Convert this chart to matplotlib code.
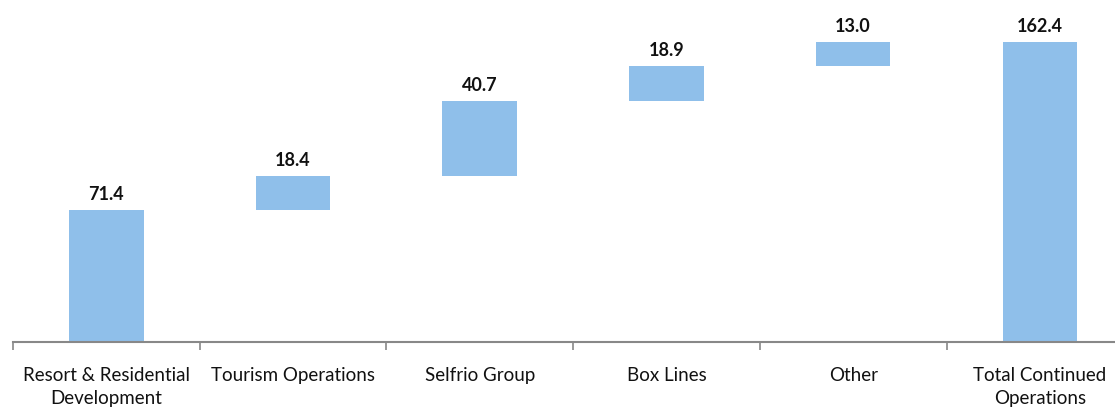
import matplotlib
matplotlib.use("Agg")
import matplotlib.pyplot as plt
import numpy as np

categories = ["Resort & Residential\nDevelopment", "Tourism Operations", "Selfrio Group",
              "Box Lines", "Other", "Total Continued\nOperations"]
values = [71.4, 18.4, 40.7, 18.9, 13.0, 162.4]
is_total = [False, False, False, False, False, True]

bar_color = "#8FBFEA"
axis_color = "#888888"

plt.rcParams['font.family'] = ['Lato', 'DejaVu Sans']

W, H = 1115, 407
fig = plt.figure(figsize=(W / 100, H / 100), dpi=100)
left_px, right_px = 13, 13 + 6 * 186.7
base_px, top_px = 342, 19
ax = fig.add_axes([left_px / W, (H - base_px) / H, (right_px - left_px) / W, (base_px - top_px) / H])

bottoms = []
running = 0.0
for v, t in zip(values, is_total):
    if t:
        bottoms.append(0.0)
    else:
        bottoms.append(running)
        running += v

x = np.arange(len(values))
ax.bar(x, values, bottom=bottoms, width=0.4, color=bar_color, edgecolor="none", zorder=2)

for xi, v, b in zip(x, values, bottoms):
    ax.annotate(f"{v:.1f}", xy=(xi, b + v), xytext=(0, 5), textcoords="offset points",
                ha="center", va="bottom", fontsize=13, fontweight="bold", color="#111111")

ax.set_xlim(-0.5, len(values) - 0.5)
ax.set_ylim(0, 175)

for s in ["top", "right", "left"]:
    ax.spines[s].set_visible(False)
ax.spines["bottom"].set_color(axis_color)
ax.spines["bottom"].set_linewidth(1.5)
ax.set_yticks([])

ax.set_xticks(x)
ax.set_xticklabels(categories, fontsize=13.5, color="#111111", linespacing=1.4)
ax.tick_params(axis="x", which="major", length=0, pad=18)
ax.set_xticks(np.arange(-0.5, len(values) + 0.5, 1.0), minor=True)
ax.tick_params(axis="x", which="minor", length=6, width=1.2, color=axis_color, direction="out")

fig.savefig("out.png", dpi=100)
